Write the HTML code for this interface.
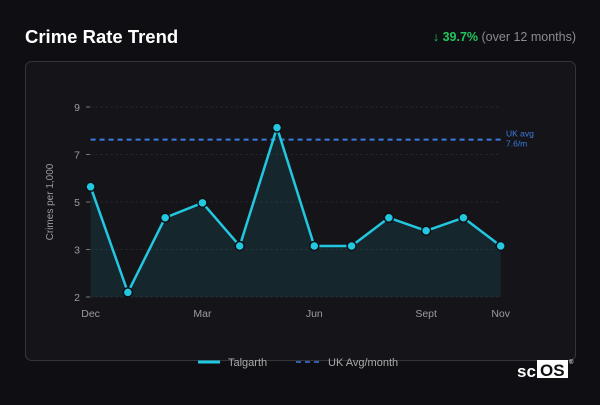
<!DOCTYPE html>
<html><head><meta charset="utf-8"><style>
body{margin:0;background:#0f0f13;width:600px;height:400px;overflow:hidden;font-family:"Liberation Sans",sans-serif}
</style></head><body>
<svg width="600" height="400">
<rect width="600" height="400" fill="#0f0f13"/>
<text x="25" y="43" fill="#fff" font-size="18.5" font-weight="bold">Crime Rate Trend</text>
<text x="576" y="41" text-anchor="end" font-size="12.5"><tspan fill="#22c55e" font-weight="bold">↓ 39.7%</tspan><tspan fill="#8a8a92"> (over 12 months)</tspan></text>
<rect x="25.5" y="61.5" width="550" height="299" rx="6" fill="#151519" stroke="#34343a"/>
<g id="grid"></g><g id="plot"></g>
<text transform="translate(53,202) rotate(-90)" text-anchor="middle" fill="#9a9aa2" font-size="10">Crimes per 1,000</text>
<g>
<line x1="198" y1="362" x2="220" y2="362" stroke="#22c7e0" stroke-width="3"/>
<text x="228" y="366" fill="#aaa" font-size="11">Talgarth</text>
<line x1="296" y1="362" x2="320" y2="362" stroke="#3b7ae0" stroke-width="1.5" stroke-dasharray="5,4"/>
<text x="328" y="366" fill="#aaa" font-size="11">UK Avg/month</text>
</g>
<g><text x="517" y="377" fill="#fff" font-size="17" font-weight="bold">sc</text><rect x="537" y="360" width="31" height="18" fill="#fff"/><text x="540" y="376" fill="#0f0f13" font-size="17" font-weight="bold">OS</text><text x="569" y="364" fill="#fff" font-size="6">®</text></g>
</svg>
<script>
const months=["Dec","Jan","Feb","Mar","Apr","May","Jun","Jul","Aug","Sept","Oct","Nov"];
const values=[6.06,2.17,4.92,5.47,3.88,8.24,3.88,3.88,4.92,4.44,4.92,3.88];
const ukAvg=[7.8];
const tickValues=[2,3.75,5.5,7.25,9];
const tickLabels=["2","3","5","7","9"];
const xLabelIdx=[0,3,6,9,11];
const ns="http://www.w3.org/2000/svg";
const x0=90.6,x1=500.7,yB=297,yT=107,vMin=2,vMax=9;
const X=i=>x0+(x1-x0)*i/(months.length-1);
const Y=v=>yB-(v-vMin)/(vMax-vMin)*(yB-yT);
function mk(t,a,p){const e=document.createElementNS(ns,t);for(const k in a)e.setAttribute(k,a[k]);p.appendChild(e);return e;}
const g=document.getElementById('grid'),p=document.getElementById('plot');
tickValues.forEach((v,i)=>{
 const l=mk('line',{x1:x0,x2:x1,y1:Y(v),y2:Y(v),stroke:'#2a2a30','stroke-dasharray':'2,3'},g);
 
 
 mk('line',{x1:86,x2:90,y1:Y(v),y2:Y(v),stroke:'#777'},g);
 const t=mk('text',{x:80,y:Y(v)+4,'text-anchor':'end',fill:'#9a9aa2','font-size':'10.5'},g);
 t.textContent=tickLabels[i];
 
 
});
xLabelIdx.forEach(i=>{
 const t=mk('text',{x:X(i),y:317,'text-anchor':'middle',fill:'#9a9aa2','font-size':'10.5'},g);
 t.textContent=months[i];
 
 
});
let d=values.map((v,i)=>(i?'L':'M')+X(i)+','+Y(v)).join('');
const area=mk('path',{d:d+'L'+X(values.length-1)+','+yB+'L'+X(0)+','+yB+'Z',fill:'#22c7e0','fill-opacity':'0.1'},p);


const uk=mk('line',{x1:x0,x2:x1,y1:Y(ukAvg[0]),y2:Y(ukAvg[0]),stroke:'#3b7ae0','stroke-width':2,'stroke-dasharray':'5,4'},p);


const ut=mk('text',{x:506,y:Y(ukAvg[0])-3,fill:'#3b7ae0','font-size':'8.5'},p);
ut.innerHTML='<tspan x="506">UK avg</tspan><tspan x="506" dy="10">7.6/m</tspan>';


const ln=mk('path',{d:d,fill:'none',stroke:'#22c7e0','stroke-width':2.5,'stroke-linejoin':'round'},p);


values.forEach((v,i)=>{
 const c=mk('circle',{cx:X(i),cy:Y(v),r:4.5,fill:'#22c7e0',stroke:'#0f0f13','stroke-width':1.5},p);
 
 
});
</script>
</body></html>
